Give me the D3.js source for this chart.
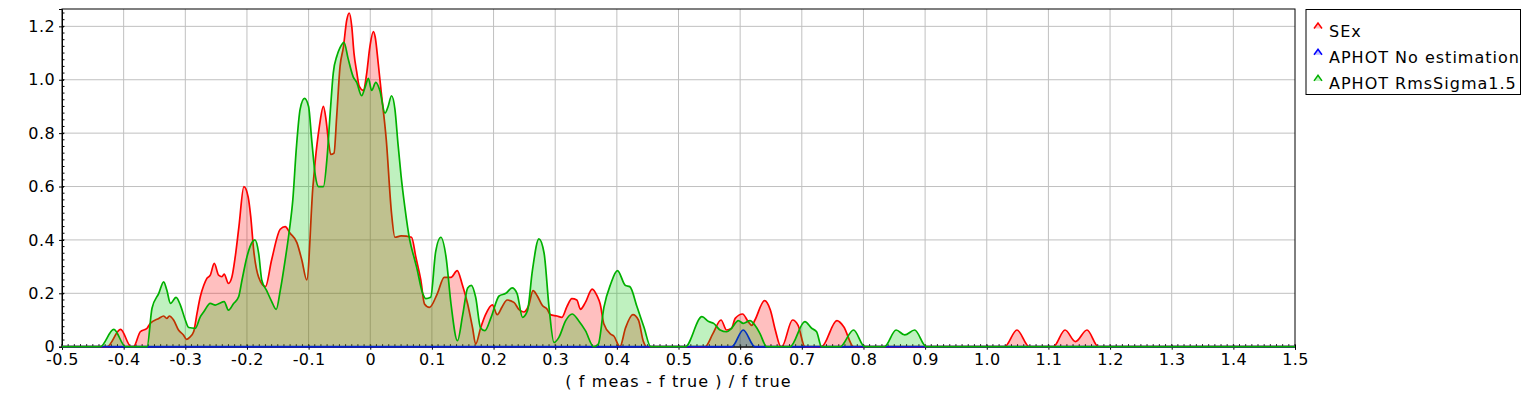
<!DOCTYPE html>
<html>
<head>
<meta charset="utf-8">
<script src="https://cdn.jsdelivr.net/npm/d3@7"></script>
<style>
  body { margin: 0; background: #fff; }
  text { font-family: "DejaVu Sans", sans-serif; font-size: 16px; fill: #000; }
</style>
</head>
<body>
<div class="canvas"></div>
<script>
// series data: [x, y] pairs
var sexPoints = [
  [-0.5,0],[-0.427,0],[-0.405,0.065],[-0.388,0],[-0.384,0],[-0.373,0.056],[-0.362,0.069],
  [-0.357,0.087],[-0.343,0.106],[-0.335,0.115],[-0.33,0.106],[-0.326,0.115],[-0.319,0.1],
  [-0.311,0.0625],[-0.303,0.044],[-0.298,0.0275],[-0.293,0.035],[-0.2865,0.056],[-0.281,0.125],
  [-0.2757,0.187],[-0.27,0.23],[-0.265,0.256],[-0.2595,0.268],[-0.253,0.312],[-0.246,0.268],
  [-0.2405,0.262],[-0.237,0.272],[-0.23,0.237],[-0.2243,0.262],[-0.219,0.337],[-0.213,0.45],
  [-0.205,0.6],[-0.198,0.56],[-0.194,0.49],[-0.189,0.36],[-0.181,0.26],[-0.17,0.225],
  [-0.16,0.325],[-0.146,0.44],[-0.138,0.45],[-0.13,0.425],[-0.119,0.39],[-0.111,0.325],
  [-0.103,0.25],[-0.093,0.6],[-0.0895,0.69],[-0.0825,0.825],[-0.076,0.9],[-0.0717,0.85],
  [-0.068,0.775],[-0.064,0.72],[-0.0588,0.725],[-0.0545,0.86],[-0.049,1.05],[-0.0437,1.12],
  [-0.038,1.225],[-0.034,1.25],[-0.03,1.2],[-0.0264,1.1],[-0.022,1.03],[-0.0178,0.975],
  [-0.0113,0.96],[-0.006,1.02],[-0.0005,1.125],[0.005,1.18],[0.008,1.16],[0.013,1.06],
  [0.018,0.95],[0.026,0.775],[0.0345,0.5],[0.04,0.41],[0.05,0.415],[0.067,0.41],[0.074,0.335],
  [0.082,0.25],[0.088,0.16],[0.096,0.147],[0.109,0.2],[0.12,0.26],[0.131,0.26],[0.141,0.285],
  [0.149,0.235],[0.158,0.16],[0.166,0.07],[0.171,0.01],[0.179,0.07],[0.187,0.12],[0.198,0.157],
  [0.206,0.12],[0.214,0.15],[0.222,0.175],[0.233,0.166],[0.241,0.14],[0.249,0.13],[0.257,0.155],
  [0.264,0.21],[0.271,0.19],[0.279,0.155],[0.287,0.14],[0.292,0.12],[0.303,0.115],[0.311,0.11],
  [0.319,0.15],[0.327,0.18],[0.335,0.175],[0.341,0.14],[0.349,0.166],[0.36,0.216],[0.368,0.19],
  [0.373,0.16],[0.379,0.085],[0.39,0.0475],[0.395,0.04],[0.405,0],[0.414,0.07],[0.426,0.12],
  [0.435,0.1],[0.443,0.02],[0.448,0],[0.543,0],[0.556,0.05],[0.569,0.1],[0.578,0.0625],
  [0.586,0.069],[0.592,0.106],[0.604,0.1225],[0.613,0.094],[0.619,0.08],[0.624,0.1],
  [0.6395,0.1725],[0.649,0.1375],[0.657,0.0625],[0.666,0],[0.6675,0],[0.685,0.1],[0.694,0.08],
  [0.705,0],[0.732,0],[0.757,0.0975],[0.768,0.075],[0.784,0],[1.029,0],[1.049,0.0625],
  [1.069,0],[1.108,0],[1.127,0.0625],[1.144,0.019],[1.1626,0.0625],[1.181,0],[1.5,0]
];

var noEstPoints = [
  [-0.5,0],[0.5865,0],[0.605,0.0625],[0.624,0],[1.5,0]
];

var rmsPoints = [
  [-0.5,0],[-0.438,0],[-0.416,0.065],[-0.397,0],[-0.362,0],[-0.354,0.144],[-0.343,0.2],
  [-0.335,0.243],[-0.33,0.212],[-0.324,0.162],[-0.315,0.185],[-0.308,0.156],[-0.3,0.1],
  [-0.2946,0.072],[-0.2838,0.069],[-0.2757,0.112],[-0.27,0.131],[-0.2595,0.162],[-0.2513,0.156],
  [-0.245,0.162],[-0.237,0.169],[-0.23,0.137],[-0.2216,0.162],[-0.2135,0.187],[-0.208,0.25],
  [-0.2,0.337],[-0.195,0.375],[-0.187,0.4],[-0.181,0.35],[-0.176,0.25],[-0.168,0.21],
  [-0.16,0.17],[-0.1525,0.14],[-0.146,0.21],[-0.138,0.325],[-0.131,0.44],[-0.1256,0.55],
  [-0.12,0.74],[-0.1137,0.89],[-0.1067,0.93],[-0.1,0.9],[-0.095,0.775],[-0.089,0.64],
  [-0.084,0.6],[-0.076,0.6],[-0.07,0.71],[-0.065,0.875],[-0.06,1.025],[-0.054,1.09],
  [-0.049,1.12],[-0.0426,1.14],[-0.036,1.08],[-0.0275,1.01],[-0.022,0.99],[-0.014,0.94],
  [-0.0086,0.97],[-0.003,1.005],[0.0022,0.96],[0.009,0.99],[0.0156,0.96],[0.024,0.875],
  [0.029,0.9],[0.0345,0.94],[0.04,0.89],[0.045,0.76],[0.05,0.64],[0.056,0.525],[0.064,0.4],
  [0.071,0.335],[0.075,0.3],[0.085,0.2],[0.09,0.18],[0.098,0.185],[0.106,0.354],[0.1145,0.41],
  [0.123,0.335],[0.131,0.16],[0.1415,0.0225],[0.15,0.12],[0.158,0.22],[0.164,0.23],
  [0.171,0.185],[0.179,0.07],[0.186,0.06],[0.196,0.11],[0.209,0.19],[0.22,0.2],[0.23,0.22],
  [0.238,0.2],[0.247,0.11],[0.255,0.135],[0.263,0.285],[0.2736,0.404],[0.282,0.35],
  [0.29,0.1475],[0.298,0.016],[0.306,0.035],[0.317,0.0975],[0.3275,0.1225],[0.338,0.0975],
  [0.349,0.06],[0.3625,0],[0.37,0.01],[0.379,0.1475],[0.39,0.235],[0.401,0.285],[0.414,0.229],
  [0.421,0.225],[0.433,0.1475],[0.444,0.0725],[0.455,0],[0.511,0],[0.538,0.1125],[0.549,0.094],
  [0.557,0.0875],[0.5675,0.0625],[0.578,0.056],[0.586,0.069],[0.597,0.0975],[0.605,0.0875],
  [0.616,0.0975],[0.624,0.08],[0.632,0.05],[0.643,0],[0.681,0],[0.705,0.094],[0.716,0.069],
  [0.724,0.056],[0.732,0],[0.762,0],[0.784,0.0625],[0.802,0],[0.834,0],[0.853,0.0625],
  [0.867,0.044],[0.883,0.0625],[0.902,0],[1.5,0]
];

var seriesNames = ['SEx', 'APHOT No estimation', 'APHOT RmsSigma1.5'];
var xTicks = [-0.5,-0.4,-0.3,-0.2,-0.1,0,0.1,0.2,0.3,0.4,0.5,0.6,0.7,0.8,0.9,1.0,1.1,1.2,1.3,1.4,1.5];
var xTickLabels = ['-0.5','-0.4','-0.3','-0.2','-0.1','0','0.1','0.2','0.3','0.4','0.5','0.6','0.7','0.8','0.9','1.0','1.1','1.2','1.3','1.4','1.5'];
var yTicks = [0,0.2,0.4,0.6,0.8,1.0,1.2];
var yTickLabels = ['0','0.2','0.4','0.6','0.8','1.0','1.2'];
var xTitle = '( f meas - f true ) / f true';

var margin = {top: 9, right: 231, bottom: 51.3, left: 62},
  width = 1526 - margin.left - margin.right,
  height = 398 - margin.top - margin.bottom;

var svg = d3.select('.canvas')
  .append('svg')
  .attr('width', 1526)
  .attr('height', 398);

const graph = svg.append('g')
  .attr('transform', `translate(${margin.left},${margin.top})`);

// scales
const x = d3.scaleLinear().domain([-0.5, 1.5]).range([0, width]);
const y = d3.scaleLinear().domain([0, 1.265]).range([height, 0]);

// grid
graph.append('g').selectAll('line')
  .data(xTicks.slice(1, -1))
  .enter().append('line')
    .attr('x1', d => x(d)).attr('x2', d => x(d))
    .attr('y1', 0).attr('y2', height)
    .attr('stroke', '#c0c0c0').attr('stroke-width', 1);

graph.append('g').selectAll('line')
  .data(yTicks.slice(1))
  .enter().append('line')
    .attr('x1', 0).attr('x2', width)
    .attr('y1', d => y(d)).attr('y2', d => y(d))
    .attr('stroke', '#c0c0c0').attr('stroke-width', 1);

// plot border
graph.append('rect')
  .attr('width', width).attr('height', height)
  .attr('fill', 'none').attr('stroke', '#000').attr('stroke-width', 1);

// axes
const xAxis = d3.axisBottom(x)
  .tickValues(xTicks)
  .tickSize(3)
  .tickFormat((d, i) => xTickLabels[i]);
const yAxis = d3.axisLeft(y)
  .tickValues(yTicks)
  .tickSize(3)
  .tickFormat((d, i) => yTickLabels[i]);

const xAxisGroup = graph.append('g')
  .attr('transform', `translate(0, ${height})`)
  .call(xAxis);
const yAxisGroup = graph.append('g').call(yAxis);

[xAxisGroup, yAxisGroup].forEach(g => {
  g.select('.domain').attr('stroke', '#000');
  g.selectAll('.tick line').attr('stroke', '#000');
  g.selectAll('text')
    .style('font-family', '"DejaVu Sans", sans-serif')
    .style('font-size', '16px')
    .style('letter-spacing', '0.4px')
    .attr('fill', '#000');
});
xAxisGroup.selectAll('.tick line').attr('y1', -2);
xAxisGroup.selectAll('text').attr('y', 7);
yAxisGroup.selectAll('.tick line').attr('x1', 2);
yAxisGroup.selectAll('text').attr('x', -7);

// minor ticks
const xMinor = d3.range(-50, 151).map(i => i / 100);
graph.append('g').selectAll('line')
  .data(xMinor)
  .enter().append('line')
    .attr('x1', d => x(d)).attr('x2', d => x(d))
    .attr('y1', height).attr('y2', height - 2.5)
    .attr('stroke', '#000').attr('stroke-width', 1);

const yMinor = d3.range(0, 51).map(i => i * 0.025);
graph.append('g').selectAll('line')
  .data(yMinor)
  .enter().append('line')
    .attr('x1', 0).attr('x2', 2.5)
    .attr('y1', d => y(d)).attr('y2', d => y(d))
    .attr('stroke', '#000').attr('stroke-width', 1);

// x title
svg.append('text')
  .attr('x', margin.left + width / 2)
  .attr('y', 387)
  .attr('text-anchor', 'middle')
  .style('letter-spacing', '1.1px')
  .text(xTitle);

// series
const series = [
  {name: seriesNames[0], data: sexPoints, line: '#ff0000', fill: 'rgba(255,0,0,0.25)'},
  {name: seriesNames[1], data: noEstPoints, line: '#0000ff', fill: 'rgba(0,0,255,0.25)'},
  {name: seriesNames[2], data: rmsPoints, line: '#00b000', fill: 'rgba(0,200,0,0.25)'}
];

const area = d3.area()
  .curve(d3.curveMonotoneX)
  .x(d => x(d[0]))
  .y0(y(0))
  .y1(d => y(d[1]));

const line = d3.line()
  .curve(d3.curveMonotoneX)
  .x(d => x(d[0]))
  .y(d => y(d[1]));

series.forEach(s => {
  graph.append('path')
    .datum(s.data)
    .attr('fill', s.fill)
    .attr('d', area);
  graph.append('path')
    .datum(s.data)
    .attr('fill', 'none')
    .attr('stroke', s.line)
    .attr('stroke-width', 1.7)
    .attr('d', line);
});

// legend
const legend = svg.append('g');
legend.append('rect')
  .attr('x', 1306).attr('y', 9.5)
  .attr('width', 214.5).attr('height', 85)
  .attr('fill', '#fff').attr('stroke', '#000').attr('stroke-width', 1);

series.forEach((s, i) => {
  const by = 36.5 + i * 26.2;
  legend.append('path')
    .attr('d', `M${1314},${by - 8} L${1318},${by - 13.5} L${1322},${by - 8}`)
    .attr('fill', s.fill)
    .attr('stroke', s.line)
    .attr('stroke-width', 1.5);
  legend.append('text')
    .attr('x', 1329)
    .attr('y', by)
    .style('letter-spacing', '1px')
    .text(s.name);
});
</script>
</body>
</html>
